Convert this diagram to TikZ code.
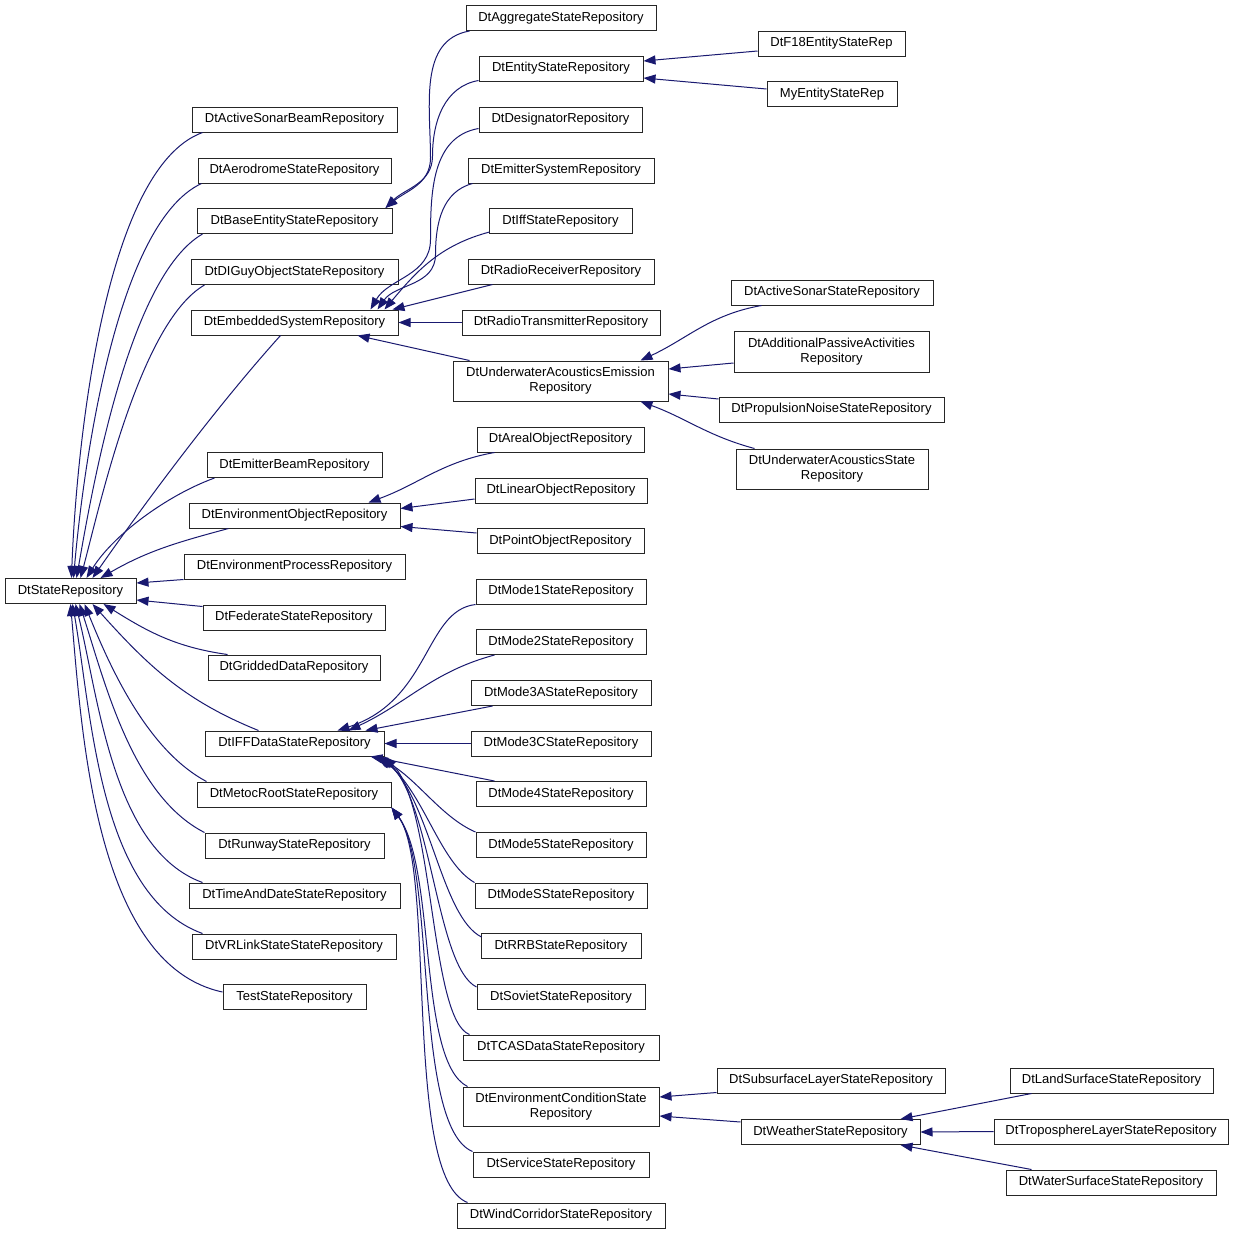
\documentclass[tikz,border=0pt]{standalone}
\usepackage{fontspec}
\setmainfont{Liberation Sans}
\usepackage{tikz}
\usetikzlibrary{arrows.meta}
\definecolor{edgeblue}{HTML}{191970}
\newcommand{\clsfont}{\fontsize{13}{15}\selectfont}

\begin{document}
\begin{tikzpicture}[x=1pt, y=1pt,
    cls/.style={draw=black!85, line width=1pt, fill=white, font=\clsfont,
      inner sep=0pt, minimum height=25pt, minimum width=#1, align=center},
    inh/.style={draw=edgeblue, line width=1pt, {Triangle[length=12pt,width=9pt]}-}]
    \fill[white] (0,0) rectangle (1235,-1235);
    \useasboundingbox (0,0) rectangle (1235,-1235);

    % Root
    \node[cls=131pt] (sr) at (70.5,-591) {DtStateRepository};

    % Second column
    \node[cls=205pt] (asb) at (294.5,-119.5) {DtActiveSonarBeamRepository};
    \node[cls=193pt] (aero) at (294.5,-170.5) {DtAerodromeStateRepository};
    \node[cls=195pt] (base) at (294.5,-221) {DtBaseEntityStateRepository};
    \node[cls=207pt] (digu) at (294.5,-272) {DtDIGuyObjectStateRepository};
    \node[cls=207pt] (emb) at (294.5,-322.5) {DtEmbeddedSystemRepository};
    \node[cls=175pt] (emitb) at (294.5,-465) {DtEmitterBeamRepository};
    \node[cls=211pt] (envobj) at (294.5,-515.5) {DtEnvironmentObjectRepository};
    \node[cls=221pt] (envproc) at (294.5,-566.5) {DtEnvironmentProcessRepository};
    \node[cls=182pt] (fed) at (294,-617.5) {DtFederateStateRepository};
    \node[cls=172pt] (grid) at (294,-667.5) {DtGriddedDataRepository};
    \node[cls=179pt] (iff) at (294.5,-743.5) {DtIFFDataStateRepository};
    \node[cls=194pt] (metoc) at (294,-794.5) {DtMetocRootStateRepository};
    \node[cls=179pt] (runway) at (294.5,-845.5) {DtRunwayStateRepository};
    \node[cls=211pt] (timedate) at (294.5,-895.5) {DtTimeAndDateStateRepository};
    \node[cls=204pt] (vrlink) at (294,-946.5) {DtVRLinkStateStateRepository};
    \node[cls=143pt] (test) at (294.5,-997) {TestStateRepository};

    % Third column
    \node[cls=190pt] (agg) at (561,-18) {DtAggregateStateRepository};
    \node[cls=164pt] (ent) at (561,-68.5) {DtEntityStateRepository};
    \node[cls=163pt] (des) at (560.5,-119.5) {DtDesignatorRepository};
    \node[cls=186pt] (emsys) at (561,-170.5) {DtEmitterSystemRepository};
    \node[cls=143pt] (iffs) at (560.5,-221) {DtIffStateRepository};
    \node[cls=186pt] (rr) at (561,-271.5) {DtRadioReceiverRepository};
    \node[cls=198pt] (rt) at (561,-322.5) {DtRadioTransmitterRepository};
    \node[cls=215pt, minimum height=40pt] (uae) at (560.5,-381) {DtUnderwaterAcousticsEmission\\Repository};
    \node[cls=167pt] (areal) at (560.5,-439.5) {DtArealObjectRepository};
    \node[cls=172pt] (linear) at (561,-490.5) {DtLinearObjectRepository};
    \node[cls=167pt] (point) at (560.5,-541) {DtPointObjectRepository};
    \node[cls=170pt] (mode1) at (561,-591.5) {DtMode1StateRepository};
    \node[cls=170pt] (mode2) at (561,-642) {DtMode2StateRepository};
    \node[cls=180pt] (mode3a) at (561,-693) {DtMode3AStateRepository};
    \node[cls=180pt] (mode3c) at (561,-743.5) {DtMode3CStateRepository};
    \node[cls=170pt] (mode4) at (561,-794) {DtMode4StateRepository};
    \node[cls=170pt] (mode5) at (561,-845) {DtMode5StateRepository};
    \node[cls=172pt] (modes) at (561,-895.5) {DtModeSStateRepository};
    \node[cls=160pt] (rrb) at (561,-946) {DtRRBStateRepository};
    \node[cls=168pt] (soviet) at (561,-997) {DtSovietStateRepository};
    \node[cls=196pt] (tcas) at (561,-1047.5) {DtTCASDataStateRepository};
    \node[cls=196pt, minimum height=39pt] (envcond) at (561,-1106.5) {DtEnvironmentConditionState\\Repository};
    \node[cls=176pt] (service) at (561,-1164.5) {DtServiceStateRepository};
    \node[cls=208pt] (wind) at (561,-1215.5) {DtWindCorridorStateRepository};

    % Fourth column
    \node[cls=147pt] (f18) at (831.5,-43.5) {DtF18EntityStateRep};
    \node[cls=130pt] (myent) at (832,-94) {MyEntityStateRep};
    \node[cls=202pt] (actsonar) at (832,-292.5) {DtActiveSonarStateRepository};
    \node[cls=195pt, minimum height=41pt] (addpass) at (831.5,-351.5) {DtAdditionalPassiveActivities\\Repository};
    \node[cls=225pt] (propnoise) at (831.5,-409.5) {DtPropulsionNoiseStateRepository};
    \node[cls=192pt, minimum height=40pt] (uastate) at (832,-469) {DtUnderwaterAcousticsState\\Repository};
    \node[cls=228pt] (subsurf) at (831,-1080.5) {DtSubsurfaceLayerStateRepository};
    \node[cls=179pt] (weather) at (830.5,-1132) {DtWeatherStateRepository};

    % Fifth column
    \node[cls=203pt] (land) at (1111.5,-1080.5) {DtLandSurfaceStateRepository};
    \node[cls=234pt] (tropo) at (1111,-1131.5) {DtTroposphereLayerStateRepository};
    \node[cls=210pt] (water) at (1111,-1182.5) {DtWaterSurfaceStateRepository};

    % Links to the root
    \draw[inh] ([xshift=1]sr.north) to[out=88,in=200,looseness=0.6] ([xshift=11]asb.south west);
    \draw[inh] ([xshift=3]sr.north) to[out=85,in=205,looseness=0.6] ([xshift=4]aero.south west);
    \draw[inh] ([xshift=6]sr.north) to[out=80,in=210,looseness=0.6] ([xshift=6]base.south west);
    \draw[inh] ([xshift=10]sr.north) to[out=75,in=210,looseness=0.6] ([xshift=14]digu.south west);
    \draw[inh] ([xshift=22]sr.north) to[out=55,in=228,looseness=0.8] ([xshift=-14]emb.south);
    \draw[inh] ([xshift=16]sr.north) to[out=58,in=200,looseness=0.8] ([xshift=8]emitb.south west);
    \draw[inh] ([xshift=30]sr.north) to[out=30,in=195] ([xshift=40]envobj.south west);
    \draw[inh] ([yshift=8]sr.east) -- (envproc.south west);
    \draw[inh] ([yshift=-9]sr.east) -- ([yshift=-2]fed.north west);
    \draw[inh] ([xshift=33]sr.south) to[out=-32,in=172] ([xshift=20]grid.north west);
    \draw[inh] ([xshift=22]sr.south) to[out=-48,in=158] ([xshift=54]iff.north west);
    \draw[inh] ([xshift=14]sr.south) to[out=-68,in=152,looseness=0.8] ([xshift=10]metoc.north west);
    \draw[inh] ([xshift=9]sr.south) to[out=-72,in=153,looseness=0.8] (runway.north west);
    \draw[inh] ([xshift=5]sr.south) to[out=-76,in=160,looseness=0.8] ([xshift=14]timedate.north west);
    \draw[inh] ([xshift=2]sr.south) to[out=-80,in=160,looseness=0.8] ([xshift=11]vrlink.north west);
    \draw[inh] (sr.south) to[out=-85,in=168,looseness=0.8] ([yshift=5]test.west);

    % Base entity and entity state
    \draw[inh] ([xshift=-7]base.north east) to[out=40,in=-90] ++(45,50) to[out=90,in=190] ([xshift=4]agg.south west);
    \draw[inh] ([xshift=-7]base.north east) to[out=45,in=-90] ++(47,52) to[out=90,in=190] ([yshift=1]ent.south west);
    \draw[inh] ([yshift=7.5]ent.east) -- ([yshift=-7.5]f18.west);
    \draw[inh] ([yshift=-9.5]ent.east) -- ([yshift=5]myent.west);

    % Embedded systems
    \draw[inh] ([xshift=-28]emb.north east) to[out=60,in=-90] ++(60,70) to[out=90,in=190] ([yshift=4]des.south west);
    \draw[inh] ([xshift=-21]emb.north east) to[out=55,in=-90] ++(58,55) to[out=90,in=195] ([xshift=5]emsys.south west);
    \draw[inh] ([xshift=-14]emb.north east) to[out=50,in=195] ([xshift=1,yshift=2]iffs.south west);
    \draw[inh] ([xshift=-6]emb.north east) -- ([xshift=25]rr.south west);
    \draw[inh] (emb.east) -- (rt.west);
    \draw[inh] ([xshift=-41]emb.south east) -- ([xshift=17]uae.north west);
    \draw[inh] ([xshift=-28]uae.north east) to[out=25,in=190] ([xshift=31]actsonar.south west);
    \draw[inh] ([yshift=12]uae.east) -- ([yshift=-11.5]addpass.west);
    \draw[inh] ([yshift=-13]uae.east) -- ([yshift=10.5]propnoise.west);
    \draw[inh] ([xshift=-28]uae.south east) to[out=-20,in=165] ([xshift=19]uastate.north west);

    % Environment objects
    \draw[inh] ([xshift=-32]envobj.north east) to[out=20,in=190] ([xshift=18]areal.south west);
    \draw[inh] ([yshift=7]envobj.east) -- ([yshift=-8.5]linear.west);
    \draw[inh] ([yshift=-11]envobj.east) -- ([yshift=8]point.west);

    % IFF modes
    \draw[inh] ([xshift=-47]iff.north east) .. controls +(93,30) and +(-51,-6) .. (mode1.south west);
    \draw[inh] ([xshift=-36]iff.north east) to[out=25,in=195] ([xshift=19]mode2.south west);
    \draw[inh] ([xshift=-19]iff.north east) -- ([xshift=22]mode3a.south west);
    \draw[inh] (iff.east) -- (mode3c.west);
    \draw[inh] ([xshift=-14]iff.south east) -- ([xshift=19]mode4.north west);
    \draw[inh] ([xshift=-9]iff.south east) .. controls +(40,-20) and +(-35,15) .. (mode5.north west);
    \draw[inh] ([xshift=-6]iff.south east) .. controls +(45,-35) and +(-35,20) .. (modes.north west);
    \draw[inh] ([xshift=-4]iff.south east) .. controls +(50,-45) and +(-40,20) .. ([xshift=1,yshift=-4]rrb.north west);
    \draw[inh] ([xshift=-2]iff.south east) .. controls +(50,-50) and +(-40,20) .. ([yshift=-3]soviet.north west);
    \draw[inh] (iff.south east) .. controls +(50,-50) and +(-40,15) .. ([xshift=7]tcas.north west);

    % Metoc
    \draw[inh] (metoc.south east) .. controls +(45,-60) and +(-50,25) .. ([xshift=5]envcond.north west);
    \draw[inh] (metoc.south east) .. controls +(45,-60) and +(-60,25) .. (service.north west);
    \draw[inh] (metoc.south east) .. controls +(45,-60) and +(-65,25) .. ([xshift=11]wind.north west);
    \draw[inh] ([yshift=9.5]envcond.east) -- ([yshift=1]subsurf.south west);
    \draw[inh] ([yshift=-9.5]envcond.east) -- ([yshift=10]weather.west);
    \draw[inh] ([xshift=-20]weather.north east) -- ([xshift=22]land.south west);
    \draw[inh] (weather.east) -- (tropo.west);
    \draw[inh] ([xshift=-20]weather.south east) -- ([xshift=26]water.north west);
\end{tikzpicture}
\end{document}
